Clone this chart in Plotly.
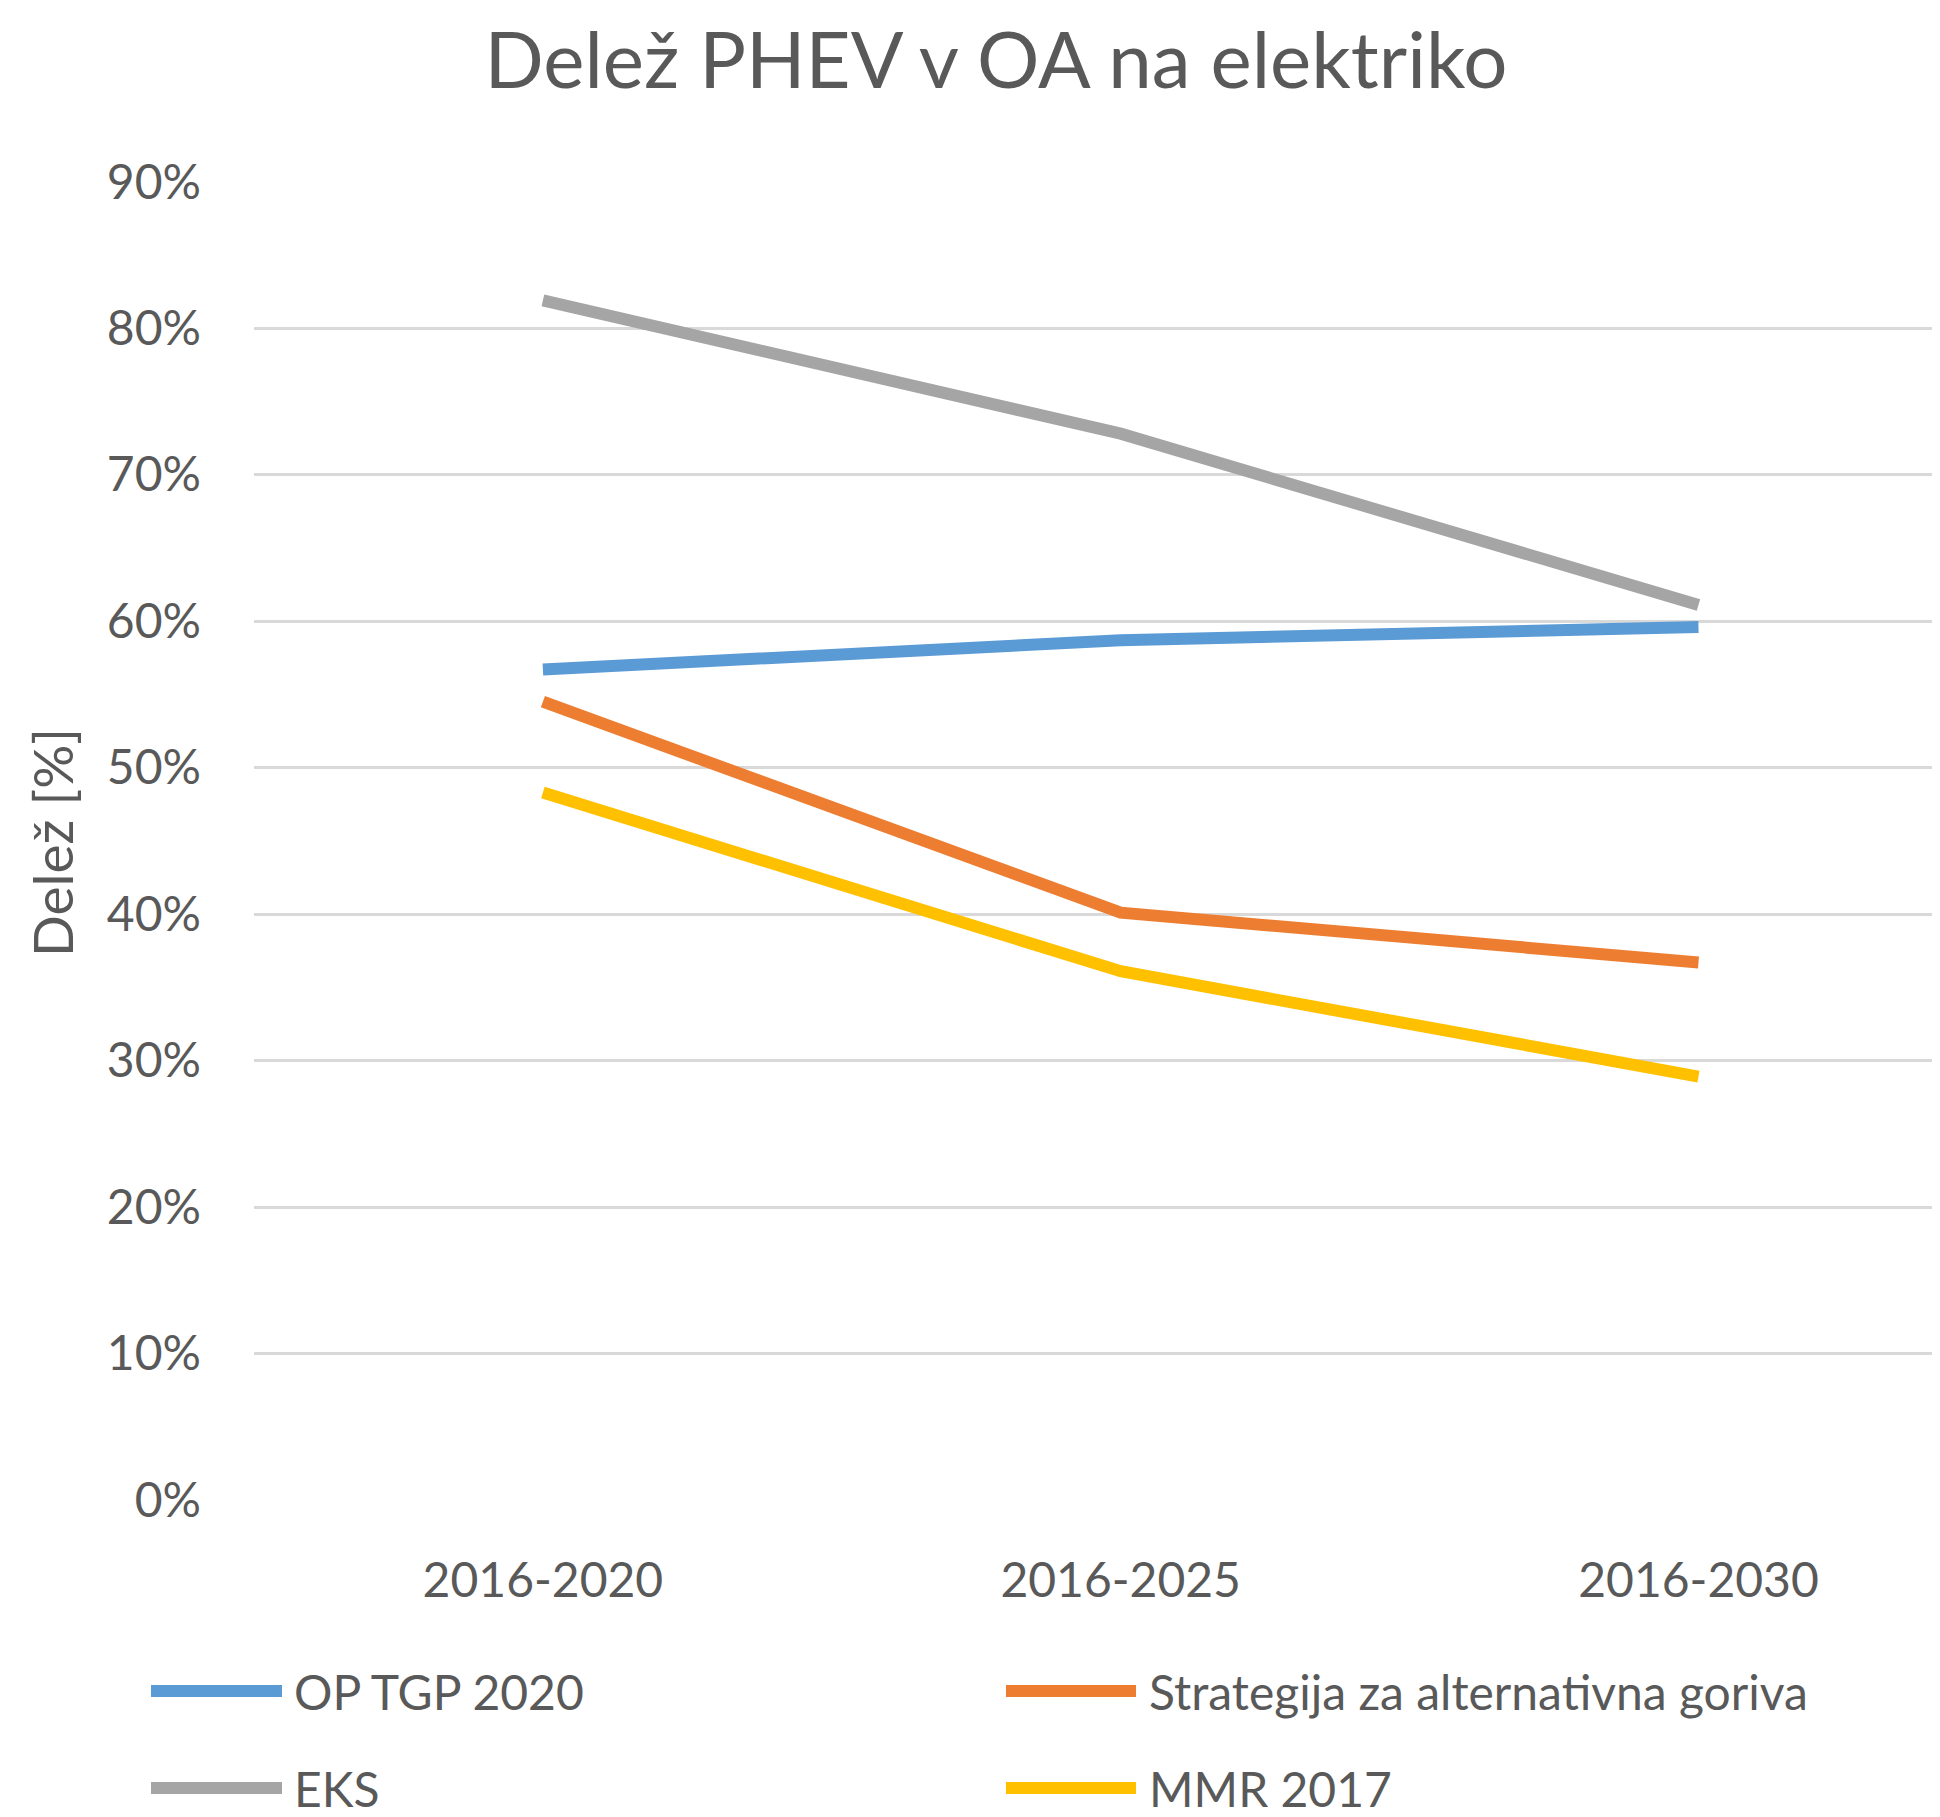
import plotly.graph_objects as go

categories = ['2016-2020', '2016-2025', '2016-2030']
series_names = ['OP TGP 2020', 'Strategija za alternativna goriva', 'EKS', 'MMR 2017']
op_tgp = [0.567, 0.587, 0.596]
strategija = [0.545, 0.401, 0.367]
eks = [0.819, 0.728, 0.611]
mmr = [0.483, 0.361, 0.289]
series_values = [op_tgp, strategija, eks, mmr]
colors = ['#5B9BD5', '#ED7D31', '#A5A5A5', '#FFC000']
y_ticks = [0, 0.1, 0.2, 0.3, 0.4, 0.5, 0.6, 0.7, 0.8, 0.9]

# the page body has an 8px margin, so the figure is 8px smaller than the window
OFF = 8
W, H = 1940 - OFF, 1817 - OFF
L, R, T, B = 254 - OFF, 0, 181 - OFF, 317
FONT = 'Lato'
TXT = '#595959'


def px_x(x):
    # page pixel -> paper x
    return (x - OFF - L) / (W - L - R)


def px_y(y):
    # page pixel -> paper y
    return (H - B - (y - OFF)) / (H - T - B)


fig = go.Figure()
for name, vals, col in zip(series_names, series_values, colors):
    fig.add_trace(go.Scatter(
        x=categories, y=vals, name=name, mode='lines',
        line=dict(color=col, width=12),
        hoverinfo='skip', showlegend=False,
    ))

# legend drawn by hand (Excel-like long line samples), 2 columns
shapes = []
annotations = []
leg_cols = [(151, 282, 292), (1006, 1136, 1147)]
leg_rows = [1691, 1788]
for i, (name, col) in enumerate(zip(series_names, colors)):
    x0, x1, xt = leg_cols[i % 2]
    yy = leg_rows[i // 2]
    shapes.append(dict(type='line', xref='paper', yref='paper',
                       x0=px_x(x0), x1=px_x(x1), y0=px_y(yy), y1=px_y(yy),
                       line=dict(color=col, width=12)))
    annotations.append(dict(text=name, xref='paper', yref='paper',
                            x=px_x(xt), y=px_y(yy), xanchor='left', yanchor='middle',
                            showarrow=False, font=dict(family=FONT, size=48, color=TXT)))

annotations.append(dict(text='Delež [%]', xref='paper', yref='paper',
                        x=px_x(52), y=px_y(843), xanchor='center', yanchor='middle',
                        textangle=-90, showarrow=False,
                        font=dict(family=FONT, size=55, color=TXT)))

fig.update_layout(
    width=W, height=H,
    margin=dict(l=L, r=R, t=T, b=B),
    paper_bgcolor='white', plot_bgcolor='white',
    title=dict(text='Delež PHEV v OA na elektriko', x=(996 - OFF) / W,
               xanchor='center', y=1 - (61 - OFF) / H, yanchor='middle',
               font=dict(family=FONT, size=78, color=TXT)),
    xaxis=dict(range=[-0.5, 2.418], showgrid=False, zeroline=False, showline=False,
               tickfont=dict(family=FONT, size=48, color=TXT), ticklabelstandoff=48),
    yaxis=dict(range=[0, 0.9005], tickvals=y_ticks, tickformat='.0%',
               showgrid=True, gridcolor='#D9D9D9', gridwidth=3, zeroline=False,
               showline=False,
               tickfont=dict(family=FONT, size=48, color=TXT), ticklabelstandoff=52),
    shapes=shapes,
    annotations=annotations,
    showlegend=False,
)

fig.write_html('out.html')
